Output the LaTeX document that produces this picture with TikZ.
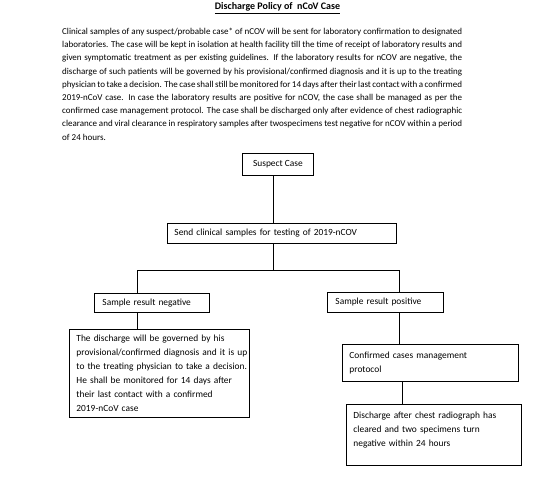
\documentclass[tikz,border=0pt]{standalone}
\usepackage{fontspec}
\setmainfont{Carlito}
\newcommand{\jline}[1]{\makebox[400pt][s]{#1}}
\begin{document}
\begin{tikzpicture}[x=1pt,y=-1pt,
  box/.style={draw, line width=0.9pt, anchor=north west, align=left, inner ysep=0pt,
    font=\fontsize{9.4}{14}\selectfont},
  link/.style={line width=0.8pt}]
\useasboundingbox (0,0) rectangle (554,481);
\node[font=\bfseries\fontsize{10}{12}\selectfont, inner sep=0] (title) at (277.5,8) {\underline{Discharge Policy of\ \ nCoV Case}};
\node[anchor=north west, align=left, inner sep=0,
  font=\fontsize{9}{13.2}\selectfont] (para) at (62,28) {\jline{Clinical samples of any suspect/probable case* of nCOV will be sent for laboratory confirmation to designated}\\
\jline{laboratories. The case will be kept in isolation at health facility till the time of receipt of laboratory results and}\\
\jline{given symptomatic treatment as per existing guidelines. If the laboratory results for nCOV are negative, the}\\
\jline{discharge of such patients will be governed by his provisional/confirmed diagnosis and it is up to the treating}\\
\jline{physician to take a decision. The case shall still be monitored for 14 days after their last contact with a confirmed}\\
\jline{2019-nCoV case. In case the laboratory results are positive for nCOV, the case shall be managed as per the}\\
\jline{confirmed case management protocol. The case shall be discharged only after evidence of chest radiographic}\\
\jline{clearance and viral clearance in respiratory samples after twospecimens test negative for nCOV within a period}\\
of 24 hours.};
\node[box, align=center, inner sep=0, minimum width=71pt, minimum height=22pt] (suspect) at (242,153) {Suspect Case};
\node[box, inner xsep=7pt, text width=215pt, minimum height=20pt] (send) at (167,223) {Send clinical samples for testing of 2019-nCOV};
\node[box, inner xsep=8pt, text width=99pt, minimum height=19pt] (neg) at (94,293) {Sample result negative};
\node[box, inner xsep=7pt, text width=166pt, minimum height=88pt, xshift=0pt] (left) at (69,329) {\parbox[t]{172pt}{\raggedright The discharge will be governed by his\\provisional/confirmed diagnosis and it is up\\to the treating physician to take a decision.\\He shall be monitored for 14 days after\\their last contact with a confirmed\\2019-nCoV case}};
\node[box, inner xsep=8pt, text width=100pt, minimum height=20pt] (pos) at (327,292) {Sample result positive};
\node[box, inner xsep=7pt, text width=162pt, minimum height=37pt] (conf) at (342,344) {Confirmed cases management\\protocol};
\node[box, inner xsep=7pt, text width=161pt, minimum height=61pt] (dis) at (346,404) {Discharge after chest radiograph has\\cleared and two specimens turn\\negative within 24 hours\rule[-11pt]{0pt}{0pt}};
\coordinate (c1) at (273,270);
\coordinate (bl) at (137,270);
\coordinate (br) at (399,270);
\coordinate (c2) at (402,0);
\draw[link] (c1 |- suspect.south) -- (c1 |- send.north);
\draw[link] (c1 |- send.south) -- (c1);
\draw[link] (bl |- neg.north) -- (bl) -- (br) -- (br |- pos.north);
\draw[link] (bl |- neg.south) -- (bl |- left.north);
\draw[link] (br |- pos.south) -- (br |- conf.north);
\draw[link] (c2 |- conf.south) -- (c2 |- dis.north);
\end{tikzpicture}
\end{document}
